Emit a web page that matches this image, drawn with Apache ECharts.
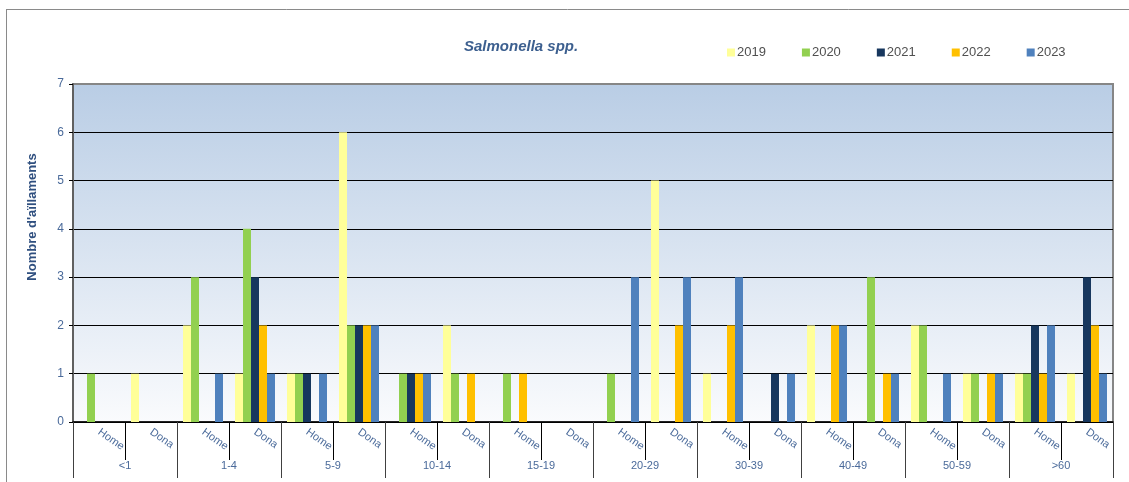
<!DOCTYPE html>
<html>
<head>
<meta charset="utf-8">
<script src="https://cdn.jsdelivr.net/npm/echarts@6/dist/echarts.min.js"></script>
<style>
  html, body { margin: 0; padding: 0; background: #fff; }
  #chart { width: 1129px; height: 482px; }
</style>
</head>
<body>
<div id="chart"></div>
<script>
// age groups, each split into Home / Dona
const ageGroups = ['<1', '1-4', '5-9', '10-14', '15-19', '20-29', '30-39', '40-49', '50-59', '>60'];
const sexes = ['Home', 'Dona'];
const years = ['2019', '2020', '2021', '2022', '2023'];
const yearColors = ['#FFFF99', '#92D050', '#17375E', '#FFC000', '#4F81BD'];

const y2019 = [0, 1, 2, 1, 1, 6, 0, 2, 0, 0, 0, 5, 1, 0, 2, 0, 2, 1, 1, 1];
const y2020 = [1, 0, 3, 4, 1, 2, 1, 1, 1, 0, 1, 0, 0, 0, 0, 3, 2, 1, 1, 0];
const y2021 = [0, 0, 0, 3, 1, 2, 1, 0, 0, 0, 0, 0, 0, 1, 0, 0, 0, 0, 2, 3];
const y2022 = [0, 0, 0, 2, 0, 2, 1, 1, 1, 0, 0, 2, 2, 0, 2, 1, 0, 1, 1, 2];
const y2023 = [0, 0, 1, 1, 1, 2, 1, 0, 0, 0, 3, 3, 3, 1, 2, 1, 1, 1, 2, 1];
const yearValues = [y2019, y2020, y2021, y2022, y2023];

const categories = [];
ageGroups.forEach(() => sexes.forEach(s => categories.push(s)));

const labelColor = '#4A6A9A';

const chart = echarts.init(document.getElementById('chart'));

const option = {
    backgroundColor: '#fff',
    animation: false,
    textStyle: { fontFamily: 'Liberation Sans, Arial, sans-serif' },
    title: {
        text: 'Salmonella spp.',
        left: 459,
        top: 34,
        textStyle: {
            fontSize: 15,
            fontStyle: 'italic',
            fontWeight: 'bold',
            color: '#3C5F8F'
        }
    },
    legend: {
        left: 722,
        top: 41,
        icon: 'rect',
        itemWidth: 8,
        itemHeight: 8,
        itemGap: 36,
        textStyle: { fontSize: 13, color: '#505050', padding: [0, 0, 0, -3] },
        data: years
    },
    graphic: [
        { type: 'line', shape: { x1: 6, y1: 9.5, x2: 1129, y2: 9.5 }, style: { stroke: '#8a8a8a', lineWidth: 1 } },
        { type: 'line', shape: { x1: 6.5, y1: 9, x2: 6.5, y2: 482 }, style: { stroke: '#8a8a8a', lineWidth: 1 } }
    ],
    grid: {
        left: 73,
        right: 16,
        top: 84,
        bottom: 60,
        show: true,
        borderColor: '#868686',
        borderWidth: 2,
        outerBoundsMode: 'none',
        backgroundColor: {
            type: 'linear', x: 0, y: 0, x2: 0, y2: 1,
            colorStops: [
                { offset: 0, color: '#B9CDE5' },
                { offset: 1, color: '#FAFBFD' }
            ]
        }
    },
    xAxis: [
        {
            type: 'category',
            data: categories,
            position: 'bottom',
            axisLine: { show: true, lineStyle: { color: '#000', width: 1.5 } },
            axisTick: { show: true, interval: 0, length: 38, lineStyle: { color: '#000' } },
            axisLabel: {
                interval: 0,
                rotate: -35,
                margin: 9,
                fontSize: 11,
                color: labelColor
            }
        },
        {
            type: 'category',
            data: ageGroups,
            position: 'bottom',
            axisLine: { show: false },
            axisTick: { show: true, interval: 0, length: 56, lineStyle: { color: '#404040' } },
            axisLabel: {
                interval: 0,
                margin: 38,
                fontSize: 11,
                color: labelColor
            }
        }
    ],
    yAxis: {
        type: 'value',
        min: 0,
        max: 7,
        interval: 1,
        name: "Nombre d'aïllaments",
        nameLocation: 'middle',
        nameGap: 34,
        nameTextStyle: { fontSize: 13, fontWeight: 'bold', color: '#2F4F7F', padding: [0, 0, 0, 72] },
        axisLine: { show: true, lineStyle: { color: '#606060', width: 2 } },
        axisTick: { show: true, length: 4, lineStyle: { color: '#000' } },
        axisLabel: { fontSize: 12, color: labelColor, margin: 9 },
        splitLine: { show: true, showMaxLine: false, lineStyle: { color: '#000', width: 1 } }
    },
    series: years.map((y, i) => ({
        name: y,
        type: 'bar',
        xAxisIndex: 0,
        barWidth: 8,
        barGap: '0%',
        itemStyle: { color: yearColors[i] },
        data: yearValues[i]
    }))
};

chart.setOption(option);
</script>
</body>
</html>
